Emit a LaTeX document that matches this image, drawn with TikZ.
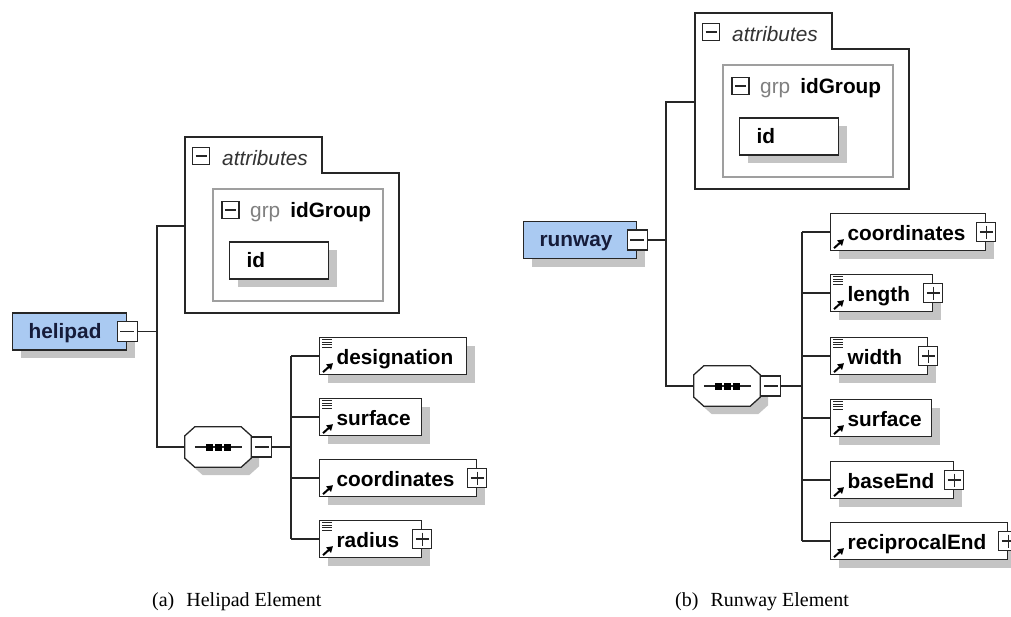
\documentclass[tikz,border=0pt]{standalone}
\usepackage{fontspec}
\setmainfont{Liberation Serif}
\setsansfont{Liberation Sans}
\usetikzlibrary{shadows,arrows.meta,calc}
\definecolor{rootblue}{RGB}{170,202,242}
\definecolor{rootink}{RGB}{22,28,58}
\definecolor{shadowgray}{RGB}{196,196,196}
\tikzset{
	boxshadow/.style={drop shadow={shadow xshift=8pt, shadow yshift=-8pt, fill=shadowgray, opacity=1}},
	wire/.style={draw=black!85, line width=1.3pt},
	labelfont/.style={font=\sffamily\bfseries\fontsize{20.8}{24}\selectfont},
	rootelem/.style={wire, fill=rootblue, boxshadow, anchor=west, labelfont, text=rootink,
		minimum height=37pt, inner xsep=0pt, text width=#1, align=left,
		text height=17pt, text depth=4pt, execute at begin node={\hspace*{16pt}}},
	elem/.style={wire, fill=white, boxshadow, anchor=west, labelfont,
		minimum height=37pt, inner xsep=0pt, text width=#1, align=left,
		text height=19pt, text depth=2pt, execute at begin node={\hspace*{17pt}}},
	signbox/.style={wire, line width=1.1pt, fill=white, minimum size=#1, inner sep=0pt},
	minusbox/.style={signbox=#1, path picture={
		\draw[line width=1.1pt] ([xshift=3pt]path picture bounding box.west) -- ([xshift=-3pt]path picture bounding box.east);}},
	plusbox/.style={signbox=#1, path picture={
		\draw[line width=1.1pt] ([xshift=3pt]path picture bounding box.west) -- ([xshift=-3pt]path picture bounding box.east);
		\draw[line width=1.1pt] ([yshift=-3pt]path picture bounding box.north) -- ([yshift=3pt]path picture bounding box.south);}},
	seqnode/.style={minimum width=66pt, minimum height=40pt, inner sep=0pt},
	seqframe/.style={wire, fill=white, boxshadow},
	attrframe/.style={wire, fill=white},
	groupframe/.style={draw=gray!75, line width=1.3pt},
	tabtext/.style={anchor=base west, inner sep=0pt, font=\sffamily\itshape\fontsize{20.8}{24}\selectfont, text=black!80},
	grouptext/.style={anchor=base west, inner sep=0pt, labelfont},
	docline/.style={draw=black!85, line width=1pt},
	refline/.style={line width=2pt, -{Triangle[length=6pt,width=7pt]}},
	caption/.style={anchor=base west, inner sep=0pt, font=\rmfamily\fontsize{20}{24}\selectfont},
}
\begin{document}
\begin{tikzpicture}[x=1pt, y=-1pt]
	\useasboundingbox (0,0) rectangle (1011,616);

	% sequence compositors first, so their boxes lie on top
	\node[seqnode] (hseq) at (218,447) {};
	\node[seqnode] (rseq) at (727,386) {};
	\foreach \s in {hseq,rseq} {
		\draw[seqframe] ($(\s.north west)+(10,0)$) -- ($(\s.north east)+(-10,0)$)
			-- ($(\s.north east)+(0,9)$) -- ($(\s.south east)+(0,-9)$)
			-- ($(\s.south east)+(-10,0)$) -- ($(\s.south west)+(10,0)$)
			-- ($(\s.south west)+(0,-9)$) -- ($(\s.north west)+(0,9)$) -- cycle;
		\draw[wire] ([xshift=10pt]\s.west) -- ([xshift=-9pt]\s.east);
		\foreach \dx in {-9,0,9}
			\fill ($(\s.center)+(\dx,0)$) +(-3.5,-3.5) rectangle +(3.5,3.5);
	}

	% (a) helipad
	\draw[attrframe] (185,137) -- (322,137) -- (322,173) -- (399,173) -- (399,313) -- (185,313) -- cycle;
		\node[minusbox=17pt] (hattrm) at (201,156) {};
		\node[tabtext] (hattrlbl) at (222,165) {attributes};
	\draw[groupframe] (213,189) rectangle (383,301);
		\node[minusbox=17pt] (hgrpm) at (230.5,210) {};
		\node[grouptext] (hgrplbl) at (250,217) {{\mdseries\color{gray}grp}\hspace{10pt}idGroup};
		\node[elem=99pt, text height=17pt, text depth=4pt] (hid) at (229,260.5) {id};
	\coordinate (hattrin) at (185,226);

	\node[rootelem=114pt] (helipad) at (12,331.5) {helipad};
	\node[minusbox=20pt] (helipadm) at (helipad.east) {};
	\coordinate (hjoin) at (157,331.5);

	\node[minusbox=20pt, anchor=west] (hseqm) at (hseq.east) {};
	\coordinate (hbus) at (291,447);

	\node[elem=147pt] (hdes) at (319,356) {designation};
	\node[elem=102pt] (hsur) at (319,417) {surface};
	\node[elem=157pt] (hcoo) at (319,478) {coordinates};
	\node[elem=102pt] (hrad) at (319,539) {radius};
		\node[plusbox=19pt] (hcoop) at (hcoo.east) {};
		\node[plusbox=19pt] (hradp) at (hrad.east) {};

	\draw[wire] (helipadm) -- (hjoin);
	\draw[wire] (hattrin) -| (hjoin) |- (hseq);
	\draw[wire] (hseqm) -- (hbus);
	\draw[wire] (hbus |- hdes.west) -- (hbus |- hrad.west);
	\foreach \c in {hdes,hsur,hcoo,hrad}
		\draw[wire] (hbus |- \c.west) -- (\c.west);

	\node[caption] (hcap) at (152,606) {(a)\hspace{12pt}Helipad Element};

	% (b) runway
	\draw[attrframe] (695,13) -- (832,13) -- (832,49) -- (909,49) -- (909,189) -- (695,189) -- cycle;
		\node[minusbox=17pt] (rattrm) at (711,32) {};
		\node[tabtext] (rattrlbl) at (732,41) {attributes};
	\draw[groupframe] (723,65) rectangle (893,177);
		\node[minusbox=17pt] (rgrpm) at (740.5,86) {};
		\node[grouptext] (rgrplbl) at (760,93) {{\mdseries\color{gray}grp}\hspace{10pt}idGroup};
		\node[elem=99pt, text height=17pt, text depth=4pt] (rid) at (739,136.5) {id};
	\coordinate (rattrin) at (695,102);

	\node[rootelem=113pt] (runway) at (523,240) {runway};
	\node[minusbox=20pt] (runwaym) at (runway.east) {};
	\coordinate (rjoin) at (666,240);

	\node[minusbox=20pt, anchor=west] (rseqm) at (rseq.east) {};
	\coordinate (rbus) at (802,386);

	\node[elem=155pt] (rcoo) at (830,232) {coordinates};
	\node[elem=102pt] (rlen) at (830,293) {length};
	\node[elem=97pt] (rwid) at (830,356) {width};
	\node[elem=101pt] (rsur) at (830,418) {surface};
	\node[elem=123pt] (rbas) at (830,480) {baseEnd};
	\node[elem=177pt] (rrec) at (830,541) {reciprocalEnd};
		\foreach \c in {rcoo,rlen,rwid,rbas,rrec}
			\node[plusbox=19pt] (\c p) at (\c.east) {};

	\draw[wire] (runwaym) -- (rjoin);
	\draw[wire] (rattrin) -| (rjoin) |- (rseq);
	\draw[wire] (rseqm) -- (rbus);
	\draw[wire] (rbus |- rcoo.west) -- (rbus |- rrec.west);
	\foreach \c in {rcoo,rlen,rwid,rsur,rbas,rrec}
		\draw[wire] (rbus |- \c.west) -- (\c.west);

	\node[caption] (rcap) at (675,606) {(b)\hspace{12pt}Runway Element};

	% documentation and reference marks
	\foreach \n in {hdes,hsur,hrad,rlen,rwid,rsur}
		\foreach \k in {0,...,3}
			\draw[docline] ($(\n.north west)+(3,3+2.5*\k)$) -- ++(10,0);
	\foreach \n in {hdes,hsur,hcoo,hrad,rcoo,rlen,rwid,rsur,rbas,rrec}
		\draw[refline] ($(\n.south west)+(4,-3)$) -- ++(10,-9);
\end{tikzpicture}
\end{document}
